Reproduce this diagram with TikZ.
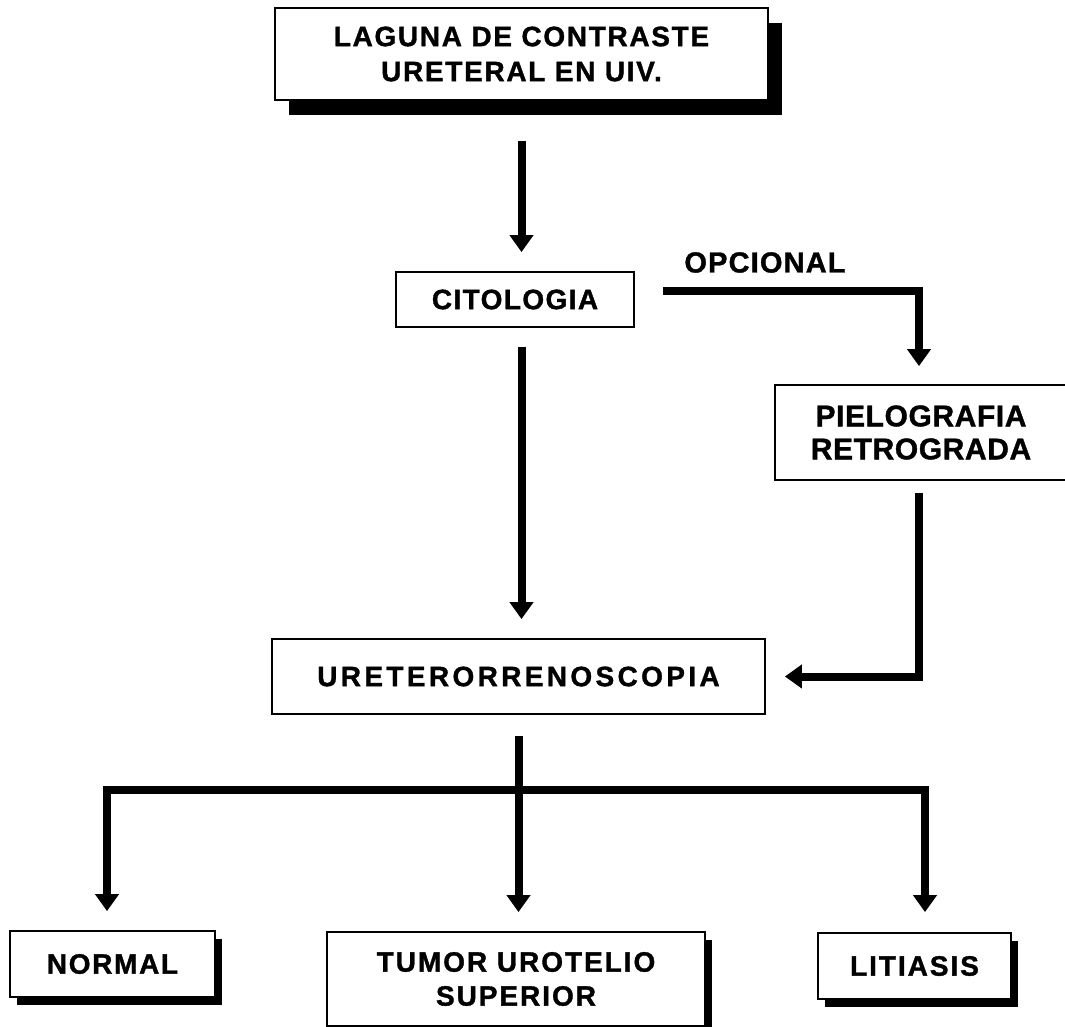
\documentclass[tikz,border=0pt]{standalone}
\usepackage{fontspec}
\setmainfont{Liberation Sans}
\usetikzlibrary{arrows.meta,calc,shadows}
\newcommand\tsz[3]{\bfseries\fontsize{#1}{#2}\selectfont\addfontfeatures{LetterSpace=#3,FakeBold=1.2}}
\tikzset{
  box/.style={draw, line width=1.8pt, fill=white, inner sep=0pt, align=center},
  bigshadow/.style={drop shadow={shadow xshift=14pt, shadow yshift=-15pt, fill=black, opacity=1}},
  smallshadow/.style={drop shadow={shadow xshift=7pt, shadow yshift=-8pt, fill=black, opacity=1}},
  arr/.style={line width=8pt, -{Triangle[width=23pt,length=17pt]}},
  arrtwo/.style={line width=8pt, {Triangle[width=23pt,length=17pt]}-{Triangle[width=23pt,length=17pt]}},
  flow/.style={line width=8pt}
}
\begin{document}
\begin{tikzpicture}[x=1pt,y=-1pt]
\useasboundingbox (0,0) rectangle (1065,1027);

% boxes
\node[box, bigshadow, minimum width=493pt, minimum height=92pt, font=\tsz{28}{35}{6}]
  (top) at (521.5,54) {LAGUNA DE CONTRASTE\\URETERAL EN UIV.};
\node[box, minimum width=238pt, minimum height=55pt, font=\tsz{28}{34}{5}]
  (cit) at (515,299.5) {CITOLOGIA};
\node[box, minimum width=292pt, minimum height=95pt, font=\tsz{30}{33}{2}]
  (piel) at (921,432.5) {PIELOGRAFIA\\RETROGRADA};
\node[box, minimum width=493pt, minimum height=75pt, font=\tsz{28}{34}{12}]
  (uret) at (518.5,676.5) {URETERORRENOSCOPIA};
\node[box, smallshadow, minimum width=205pt, minimum height=66pt, font=\tsz{28}{34}{6}]
  (normal) at (112.5,964) {NORMAL};
\node[box, smallshadow, minimum width=378pt, minimum height=94pt, font=\tsz{28}{34}{7}]
  (tumor) at (516,979) {TUMOR UROTELIO\\SUPERIOR};
\node[box, smallshadow, minimum width=193pt, minimum height=66pt, font=\tsz{28}{34}{7}]
  (lit) at (914.5,966) {LITIASIS};

% label
\node[inner sep=0pt, font=\tsz{29}{34}{4}] (opc) at (765,262.5) {OPCIONAL};

% connectors
\draw[arr] ($(top.south)+(0,40)$) -- ($(top.south |- cit.north)+(0,-19)$);
\draw[arr] ($(cit.south -| top.south)+(0,19)$) -- ($(top.south |- uret.north)+(0,-19)$);
\coordinate (bend) at (919,291);
\draw[arr] ($(cit.east)+(28,-8.5)$) -- (bend) -- ($(bend |- piel.north)+(0,-18)$);
\draw[arr] ($(piel.south -| bend)+(0,12)$) |- ($(uret.east)+(19,0)$);

\coordinate (hl) at (107,790);
\coordinate (hr) at (925,790);
\draw[arr] ($(uret.south)+(0,21)$) -- ($(uret.south |- tumor.north)+(0,-19)$);
\draw[arrtwo] ($(normal.north -| hl)+(0,-19)$) |- (hr) -- ($(lit.north -| hr)+(0,-20)$);
\end{tikzpicture}
\end{document}
